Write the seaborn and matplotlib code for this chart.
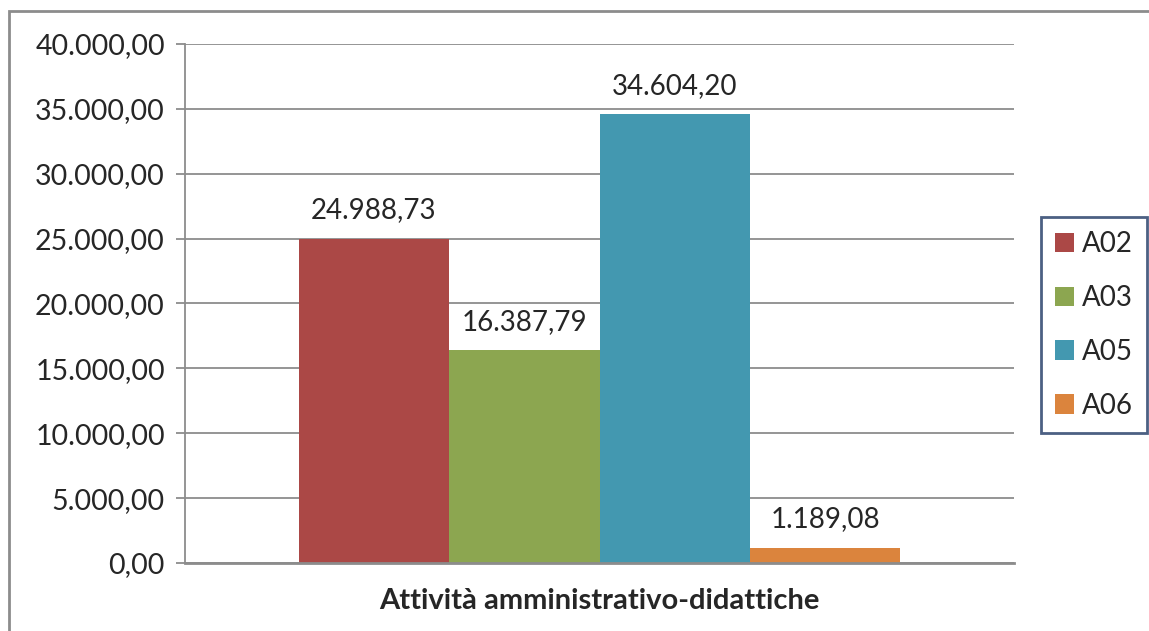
import matplotlib
matplotlib.use('Agg')
import matplotlib.pyplot as plt
import matplotlib.ticker as mticker
from matplotlib.patches import Rectangle
import pandas as pd
import seaborn as sns

# Data
categories = ['Attività amministrativo-didattiche']
series = ['A02', 'A03', 'A05', 'A06']
values = [24988.73, 16387.79, 34604.20, 1189.08]
colors = ['#AB4846', '#8CA650', '#4398B0', '#DB843D']

df = pd.DataFrame({'Categoria': categories * len(series),
                   'Serie': series,
                   'Valore': values})

sns.set_style('white')
plt.rcParams['font.family'] = ['Lato', 'DejaVu Sans']


def it_fmt(v, pos=None):
    s = f"{v:,.2f}"
    return s.replace(',', 'X').replace('.', ',').replace('X', '.')


fig = plt.figure(figsize=(11.49, 6.31), dpi=100)
ax = fig.add_axes([185 / 1149, 1 - 563 / 631, (1014 - 185) / 1149, (563 - 44) / 631])

sns.barplot(data=df, x='Categoria', y='Valore', hue='Serie', palette=colors,
            width=0.726, gap=0, saturation=1, ax=ax, linewidth=0)

ax.set_xlim(-0.5, 0.5)
ax.set_ylim(0, 40000)
ax.yaxis.set_major_locator(mticker.MultipleLocator(5000))
ax.yaxis.set_major_formatter(mticker.FuncFormatter(it_fmt))
ax.tick_params(axis='y', labelsize=20.5, length=6.5, width=1.3, color='#8c8c8c',
               direction='out', pad=8, left=True)
ax.tick_params(axis='x', length=0, labelbottom=False)
ax.grid(axis='y', color='#8c8c8c', linewidth=1.3)
ax.set_axisbelow(True)
for side in ['top', 'right']:
    ax.spines[side].set_visible(False)
ax.spines['left'].set_color('#8c8c8c')
ax.spines['left'].set_linewidth(1.3)
ax.spines['bottom'].set_color('#8c8c8c')
ax.spines['bottom'].set_linewidth(2)
ax.set_ylabel('')
ax.set_xlabel('Attività amministrativo-didattiche', fontsize=21, fontweight='bold', labelpad=18)

# value labels
for cont in ax.containers:
    ax.bar_label(cont, labels=[it_fmt(v) for v in cont.datavalues], fontsize=20, padding=11)

# legend
handles, labels = ax.get_legend_handles_labels()
ax.get_legend().remove()
leg = fig.legend(handles, labels, loc='center', bbox_to_anchor=(1094 / 1149, 1 - 325 / 631),
                 fontsize=20, frameon=True, fancybox=False, handlelength=0.7, handleheight=0.7,
                 handletextpad=0.3, labelspacing=1.0, borderpad=0.5, borderaxespad=0)
leg.get_frame().set_edgecolor('#1F3864')
leg.get_frame().set_linewidth(2)

# outer chart frame
fig.patches.append(Rectangle((9 / 1149, -0.1), 1.2, 1 - 11 / 631 + 0.1, transform=fig.transFigure,
                             fill=False, edgecolor='#8c8c8c', linewidth=2, zorder=0))

fig.savefig('out.png', dpi=100)
